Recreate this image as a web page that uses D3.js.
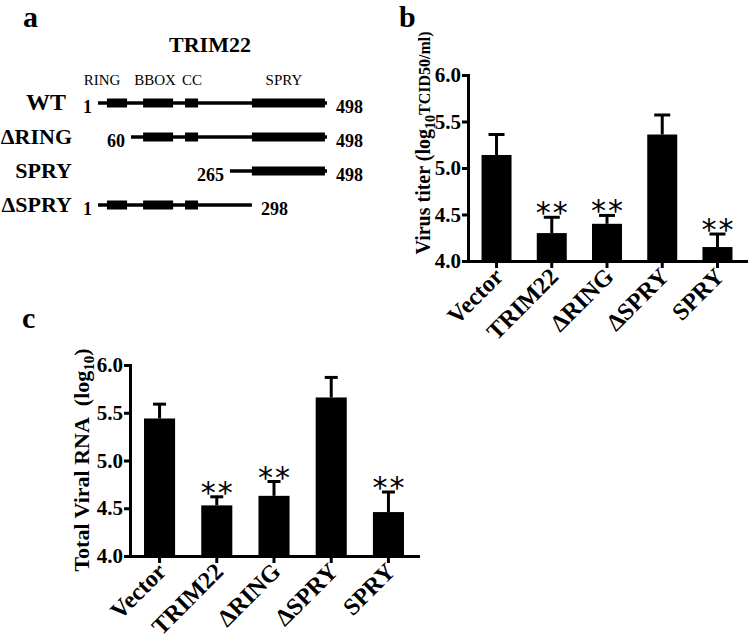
<!DOCTYPE html>
<html><head><meta charset="utf-8">
<script src="https://cdn.jsdelivr.net/npm/d3@7"></script>
<style>
body{margin:0;background:#fff}
svg{display:block}
text{font-family:"Liberation Serif","Times New Roman",serif;fill:#000}
</style>
</head><body>
<svg id="chart" width="750" height="642"></svg>
<script>
// ---------- Panel a: TRIM22 constructs (schematic units 0..100, not to scale) ----------
const constructs = ["WT", "ΔRING", "SPRY", "ΔSPRY"];
const constructStartLabel = ["1", "60", "265", "1"];
const constructEndLabel = ["498", "498", "498", "298"];
const constructFrom = [0, 14.4, 57.6, 0];
const constructTo = [100, 100, 100, 67.2];
const constructDomains = [[0, 1, 2, 3], [1, 2, 3], [3], [0, 1, 2]];
const domainNames = ["RING", "BBOX", "CC", "SPRY"];
const domainFrom = [3.9, 19.7, 38.0, 67.2];
const domainTo = [12.7, 32.8, 43.7, 99.1];
const domainLabelAt = [1.75, 24.9, 41.0, 81.2];

// ---------- Panels b & c ----------
const categories = ["Vector", "TRIM22", "ΔRING", "ΔSPRY", "SPRY"];
const yTicks = [4.0, 4.5, 5.0, 5.5, 6.0];
const titerMean = [5.14, 4.30, 4.40, 5.36, 4.15];
const titerErr  = [0.22, 0.17, 0.09, 0.21, 0.14];
const titerSig  = [false, true, true, false, true];
const rnaMean = [5.44, 4.53, 4.63, 5.66, 4.46];
const rnaErr  = [0.15, 0.09, 0.15, 0.21, 0.21];
const rnaSig  = [false, true, true, false, true];

const svg = d3.select("#chart");

// ---------- Panel letters ----------
svg.append("text").attr("x", 23).attr("y", 27).attr("font-size", 30).attr("font-weight", "bold").text("a");
svg.append("text").attr("x", 399).attr("y", 27).attr("font-size", 30).attr("font-weight", "bold").text("b");
svg.append("text").attr("x", 22).attr("y", 328).attr("font-size", 30).attr("font-weight", "bold").text("c");

// ---------- Panel a ----------
(function () {
  const g = svg.append("g");
  const x = d3.scaleLinear().domain([0, 100]).range([98, 327]);
  const y = d3.scalePoint().domain(constructs).range([103, 205]);
  g.append("text").attr("x", 210).attr("y", 52).attr("text-anchor", "middle")
    .attr("font-size", 22).attr("font-weight", "bold").text("TRIM22");
  g.selectAll("text.dom").data(domainNames).join("text").attr("class", "dom")
    .attr("x", (d, i) => x(domainLabelAt[i])).attr("y", 85).attr("text-anchor", "middle")
    .attr("font-size", 15).text(d => d);
  const rows = g.selectAll("g.row").data(constructs).join("g").attr("class", "row")
    .attr("transform", d => `translate(0,${y(d)})`);
  rows.append("text").attr("x", (d, i) => i === 0 ? 66 : 72).attr("y", 7).attr("text-anchor", "end")
    .attr("font-size", (d, i) => i === 0 ? 24 : 22).attr("font-weight", "bold").text(d => d);
  rows.append("line")
    .attr("x1", (d, i) => x(constructFrom[i])).attr("x2", (d, i) => x(constructTo[i]))
    .attr("stroke", "#000").attr("stroke-width", 3.5);
  rows.each(function (d, i) {
    d3.select(this).selectAll("rect").data(constructDomains[i]).join("rect")
      .attr("x", k => x(domainFrom[k])).attr("width", k => x(domainTo[k]) - x(domainFrom[k]))
      .attr("y", -4.5).attr("height", 9).attr("fill", "#000");
  });
  rows.append("text").attr("x", (d, i) => x(constructFrom[i]) - 6).attr("y", 10)
    .attr("text-anchor", "end").attr("font-size", 18).attr("font-weight", "bold")
    .text((d, i) => constructStartLabel[i]);
  rows.append("text").attr("x", (d, i) => x(constructTo[i]) + 9).attr("y", 10)
    .attr("text-anchor", "start").attr("font-size", 18).attr("font-weight", "bold")
    .text((d, i) => constructEndLabel[i]);
})();

// ---------- Bar panel helper ----------
function barPanel(opts) {
  const g = svg.append("g");
  const x = d3.scaleBand().domain(categories).range(opts.xRange).paddingInner(0.457).paddingOuter(0.245);
  const y = d3.scaleLinear().domain([4, 6]).range(opts.yRange);
  const data = categories.map((c, i) => ({c, m: opts.mean[i], e: opts.err[i], s: opts.sig[i]}));

  g.selectAll("line.err").data(data).join("line").attr("class", "err")
    .attr("x1", d => x(d.c) + x.bandwidth() / 2).attr("x2", d => x(d.c) + x.bandwidth() / 2)
    .attr("y1", d => y(d.m)).attr("y2", d => y(d.m + d.e))
    .attr("stroke", "#000").attr("stroke-width", 3);
  g.selectAll("line.cap").data(data).join("line").attr("class", "cap")
    .attr("x1", d => x(d.c) + x.bandwidth() / 2 - opts.cap / 2).attr("x2", d => x(d.c) + x.bandwidth() / 2 + opts.cap / 2)
    .attr("y1", d => y(d.m + d.e)).attr("y2", d => y(d.m + d.e))
    .attr("stroke", "#000").attr("stroke-width", 3);
  g.selectAll("rect.bar").data(data).join("rect").attr("class", "bar")
    .attr("x", d => x(d.c)).attr("width", x.bandwidth())
    .attr("y", d => y(d.m)).attr("height", d => y(4) - y(d.m)).attr("fill", "#000");
  g.selectAll("text.sig").data(data.filter(d => d.s)).join("text").attr("class", "sig")
    .attr("x", d => x(d.c) + x.bandwidth() / 2 + 1).attr("y", d => y(d.m + d.e) + 6)
    .attr("text-anchor", "middle").attr("font-size", 30).attr("letter-spacing", 2)
    .style("font-family", "'DejaVu Sans', sans-serif").text("**");

  const ya = g.append("g").attr("transform", `translate(${opts.xRange[0]},0)`)
    .call(d3.axisLeft(y).tickValues(yTicks).tickFormat(d3.format(".1f")).tickSize(6).tickSizeOuter(0).tickPadding(1));
  const xa = g.append("g").attr("transform", `translate(0,${opts.yRange[0]})`)
    .call(d3.axisBottom(x).tickSize(7).tickSizeOuter(0));
  [ya, xa].forEach(a => {
    a.select(".domain").attr("stroke", "#000").attr("stroke-width", 3).attr("stroke-linecap", "square");
    a.selectAll(".tick line").attr("stroke", "#000").attr("stroke-width", 3);
  });
  ya.selectAll(".tick text").attr("font-size", 21).attr("font-weight", "bold")
    .style("font-family", "'Liberation Serif', serif").attr("fill", "#000");
  xa.selectAll(".tick text").attr("font-size", 24).attr("font-weight", "bold")
    .style("font-family", "'Liberation Serif', serif").attr("fill", "#000")
    .attr("x", 0).attr("y", 0).attr("dy", 0).attr("text-anchor", "end")
    .attr("transform", "translate(8,17) rotate(-45)");

  const lab = g.append("text").attr("transform", `translate(${opts.labelX},${opts.labelY}) rotate(-90)`)
    .attr("text-anchor", "middle").attr("font-weight", "bold").attr("font-size", opts.labelSize);
  opts.label(lab);
}

barPanel({
  xRange: [468, 746], yRange: [261, 75], mean: titerMean, err: titerErr, sig: titerSig, cap: 16,
  labelX: 430, labelY: 143, labelSize: 20,
  label: t => {
    t.append("tspan").text("Virus titer (log");
    t.append("tspan").attr("font-size", 14).attr("dy", 5).text("10");
    t.append("tspan").attr("font-size", 16).attr("dy", -5).text("TCID50/ml)");
  }
});

barPanel({
  xRange: [130, 418], yRange: [556, 365], mean: rnaMean, err: rnaErr, sig: rnaSig, cap: 13,
  labelX: 89, labelY: 460, labelSize: 22,
  label: t => {
    t.append("tspan").text("Total Viral RNA\u00a0 (log");
    t.append("tspan").attr("font-size", 15).attr("dy", 5).text("10");
    t.append("tspan").attr("dy", -5).text(")");
  }
});
</script>
</body></html>
